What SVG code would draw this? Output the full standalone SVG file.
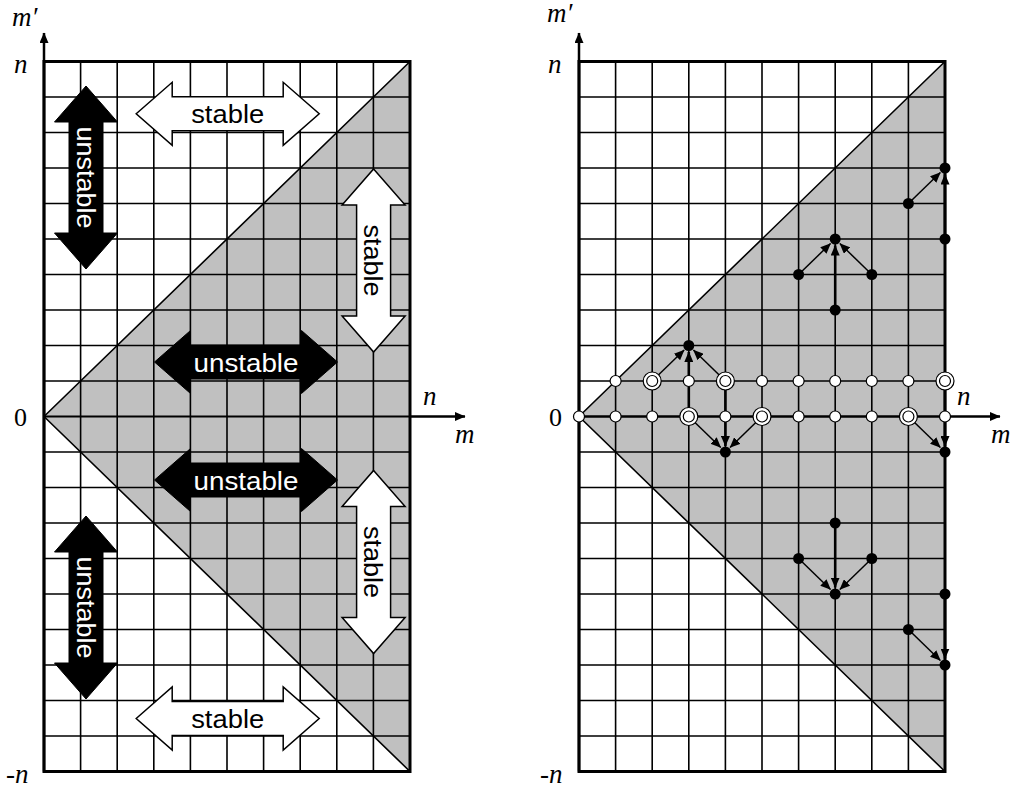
<svg xmlns="http://www.w3.org/2000/svg" width="1021" height="790" viewBox="0 0 1021 790">
<style>
.grid{stroke:#000;stroke-width:1.6;fill:none}
.border{stroke:#000;stroke-width:3;fill:none}
.lbl{font-family:"Liberation Serif","Times New Roman",serif;font-style:italic;font-size:27px;fill:#000}
.num{font-family:"Liberation Serif","Times New Roman",serif;font-size:26px;fill:#000}
.word{font-family:"Liberation Sans",Arial,sans-serif;font-size:26px;text-anchor:middle}
.wb{fill:#fff}
.bw{fill:#000}
.blk{fill:#000;stroke:#000;stroke-width:1}
.wht{fill:#fff;stroke:#000;stroke-width:1.5}
.con{stroke:#000;stroke-width:1.5;fill:none;marker-end:url(#ah)}
.conv{stroke:#000;stroke-width:2.6;fill:none;marker-end:url(#ah)}
.axis{stroke:#000;stroke-width:2.5;fill:none;marker-end:url(#ah)}
.dot{fill:#000}
.open{fill:#fff;stroke:#000;stroke-width:1.2}
.ring{fill:#fff;stroke:#000;stroke-width:1.2}
</style>
<defs>
<marker id="ah" markerUnits="userSpaceOnUse" markerWidth="11" markerHeight="9" refX="10" refY="4.5" orient="auto" viewBox="0 0 11 9">
<path d="M0,0 L10.5,4.5 L0,9 Z" fill="#000"/>
</marker>
<path id="darrow" d="M-91.5,0 L-55.5,-31.5 L-55.5,-17 L55.5,-17 L55.5,-31.5 L91.5,0 L55.5,31.5 L55.5,17 L-55.5,17 L-55.5,31.5 Z"/>
</defs>
<rect x="0" y="0" width="1021" height="790" fill="#fff"/>

<!-- LEFT PANEL -->
<g id="left-panel">
<polygon points="44,416.5 410,61.5 410,771.5" fill="#c0c0c0"/>
<path class="grid" d="M80.6,61.5V771.5M117.2,61.5V771.5M153.8,61.5V771.5M190.4,61.5V771.5M227,61.5V771.5M263.6,61.5V771.5M300.2,61.5V771.5M336.8,61.5V771.5M373.4,61.5V771.5
M44,97H410M44,132.5H410M44,168H410M44,203.5H410M44,239H410M44,274.5H410M44,310H410M44,345.5H410M44,381H410M44,452H410M44,487.5H410M44,523H410M44,558.5H410M44,594H410M44,629.5H410M44,665H410M44,700.5H410M44,736H410"/>
<path class="grid" d="M44,416.5L410,61.5M44,416.5L410,771.5" stroke-width="1.8"/>
<path d="M44,416.5H410" stroke="#000" stroke-width="2"/>
<rect class="border" x="44" y="61.5" width="366" height="710"/>
</g>
<g id="left-axes">
<path class="axis" d="M44,771.5V33"/>
<path class="axis" d="M410,416.5H465"/>
<text class="lbl" x="12" y="26">m′</text>
<text class="lbl" x="14" y="73">n</text>
<text class="num" x="14" y="426">0</text>
<text class="lbl" x="6" y="783">-n</text>
<text class="lbl" x="423" y="405">n</text>
<text class="lbl" x="455" y="443">m</text>
</g>

<g id="stable-top">
<use href="#darrow" class="wht" transform="translate(227.7,113.8)"/>
<text class="word bw" x="227.7" y="122.8" textLength="73" lengthAdjust="spacingAndGlyphs">stable</text>
</g>
<g id="unstable-left-top">
<use href="#darrow" class="blk" transform="translate(86,177.5) rotate(90)"/>
<text class="word wb" transform="translate(86,177.5) rotate(90)" x="0" y="9.3" textLength="102" lengthAdjust="spacingAndGlyphs">unstable</text>
</g>
<g id="stable-right-top">
<use href="#darrow" class="wht" transform="translate(373.6,260.5) rotate(90)"/>
<text class="word bw" transform="translate(373.6,260.5) rotate(90)" x="0" y="9.3" textLength="72" lengthAdjust="spacingAndGlyphs">stable</text>
</g>
<g id="unstable-mid-top">
<use href="#darrow" class="blk" transform="translate(246,362)"/>
<text class="word wb" x="246" y="371.5" textLength="105" lengthAdjust="spacingAndGlyphs">unstable</text>
</g>
<g id="unstable-mid-bottom">
<use href="#darrow" class="blk" transform="translate(246,480)"/>
<text class="word wb" x="246" y="489.5" textLength="105" lengthAdjust="spacingAndGlyphs">unstable</text>
</g>
<g id="stable-right-bottom">
<use href="#darrow" class="wht" transform="translate(373.6,562) rotate(90)"/>
<text class="word bw" transform="translate(373.6,562) rotate(90)" x="0" y="9.3" textLength="72" lengthAdjust="spacingAndGlyphs">stable</text>
</g>
<g id="unstable-left-bottom">
<use href="#darrow" class="blk" transform="translate(86,607.5) rotate(90)"/>
<text class="word wb" transform="translate(86,607.5) rotate(90)" x="0" y="9.3" textLength="102" lengthAdjust="spacingAndGlyphs">unstable</text>
</g>
<g id="stable-bottom">
<use href="#darrow" class="wht" transform="translate(227.7,718.5)"/>
<text class="word bw" x="227.7" y="727.5" textLength="73" lengthAdjust="spacingAndGlyphs">stable</text>
</g>

<!-- RIGHT PANEL -->
<g id="right-panel">
<polygon points="579,416.5 945,61.5 945,771.5" fill="#c0c0c0"/>
<path class="grid" d="M615.6,61.5V771.5M652.2,61.5V771.5M688.8,61.5V771.5M725.4,61.5V771.5M762,61.5V771.5M798.6,61.5V771.5M835.2,61.5V771.5M871.8,61.5V771.5M908.4,61.5V771.5
M579,97H945M579,132.5H945M579,168H945M579,203.5H945M579,239H945M579,274.5H945M579,310H945M579,345.5H945M579,381H945M579,452H945M579,487.5H945M579,523H945M579,558.5H945M579,594H945M579,629.5H945M579,665H945M579,700.5H945M579,736H945"/>
<path class="grid" d="M579,416.5L945,61.5M579,416.5L945,771.5" stroke-width="1.8"/>
<rect class="border" x="579" y="61.5" width="366" height="710"/>
</g>
<g id="right-axes">
<path class="axis" d="M579,771.5V33"/>
<path class="axis" d="M579,416.5H1000"/>
<text class="lbl" x="547" y="22">m′</text>
<text class="lbl" x="548" y="73">n</text>
<text class="num" x="549" y="426">0</text>
<text class="lbl" x="540" y="783">-n</text>
<text class="lbl" x="957" y="405">n</text>
<text class="lbl" x="991" y="443">m</text>
</g>

<g id="connectors">
<path class="con" d="M652.2,381L684.13,350.03"/>
<path class="con" d="M725.4,381L693.47,350.03"/>
<path class="conv" d="M688.8,416.5V352"/>
<path class="con" d="M688.8,416.5L720.73,447.47"/>
<path class="con" d="M762,416.5L730.07,447.47"/>
<path class="conv" d="M725.4,381V446"/>
<path class="con" d="M908.4,416.5L940.33,447.47"/>
<path class="conv" d="M945,381V446"/>
<path class="con" d="M798.6,274.5L830.53,243.53"/>
<path class="con" d="M871.8,274.5L839.87,243.53"/>
<path class="conv" d="M835.2,310V245.5"/>
<path class="con" d="M908.4,203.5L940.33,172.53"/>
<path class="conv" d="M945,239V174.5"/>
<path class="con" d="M798.6,558.5L830.53,589.47"/>
<path class="con" d="M871.8,558.5L839.87,589.47"/>
<path class="conv" d="M835.2,523V587.5"/>
<path class="con" d="M908.4,629.5L940.33,660.47"/>
<path class="conv" d="M945,594V658.5"/>
</g>

<g id="points">
<circle class="ring" cx="652.2" cy="381" r="9"/>
<circle class="ring" cx="725.4" cy="381" r="9"/>
<circle class="ring" cx="945" cy="381" r="9"/>
<circle class="ring" cx="688.8" cy="416.5" r="9"/>
<circle class="ring" cx="762" cy="416.5" r="9"/>
<circle class="ring" cx="908.4" cy="416.5" r="9"/>
<circle class="open" cx="615.6" cy="381" r="5.5"/>
<circle class="open" cx="652.2" cy="381" r="5.5"/>
<circle class="open" cx="688.8" cy="381" r="5.5"/>
<circle class="open" cx="725.4" cy="381" r="5.5"/>
<circle class="open" cx="762" cy="381" r="5.5"/>
<circle class="open" cx="798.6" cy="381" r="5.5"/>
<circle class="open" cx="835.2" cy="381" r="5.5"/>
<circle class="open" cx="871.8" cy="381" r="5.5"/>
<circle class="open" cx="908.4" cy="381" r="5.5"/>
<circle class="open" cx="945" cy="381" r="5.5"/>
<circle class="open" cx="579" cy="416.5" r="5.5"/>
<circle class="open" cx="615.6" cy="416.5" r="5.5"/>
<circle class="open" cx="652.2" cy="416.5" r="5.5"/>
<circle class="open" cx="688.8" cy="416.5" r="5.5"/>
<circle class="open" cx="725.4" cy="416.5" r="5.5"/>
<circle class="open" cx="762" cy="416.5" r="5.5"/>
<circle class="open" cx="798.6" cy="416.5" r="5.5"/>
<circle class="open" cx="835.2" cy="416.5" r="5.5"/>
<circle class="open" cx="871.8" cy="416.5" r="5.5"/>
<circle class="open" cx="908.4" cy="416.5" r="5.5"/>
<circle class="open" cx="945" cy="416.5" r="5.5"/>
<circle class="dot" cx="688.8" cy="345.5" r="5.5"/>
<circle class="dot" cx="725.4" cy="452" r="5.5"/>
<circle class="dot" cx="945" cy="452" r="5.5"/>
<circle class="dot" cx="835.2" cy="239" r="5.5"/>
<circle class="dot" cx="798.6" cy="274.5" r="5.5"/>
<circle class="dot" cx="871.8" cy="274.5" r="5.5"/>
<circle class="dot" cx="835.2" cy="310" r="5.5"/>
<circle class="dot" cx="908.4" cy="203.5" r="5.5"/>
<circle class="dot" cx="945" cy="168" r="5.5"/>
<circle class="dot" cx="945" cy="239" r="5.5"/>
<circle class="dot" cx="835.2" cy="523" r="5.5"/>
<circle class="dot" cx="798.6" cy="558.5" r="5.5"/>
<circle class="dot" cx="871.8" cy="558.5" r="5.5"/>
<circle class="dot" cx="835.2" cy="594" r="5.5"/>
<circle class="dot" cx="908.4" cy="629.5" r="5.5"/>
<circle class="dot" cx="945" cy="665" r="5.5"/>
<circle class="dot" cx="945" cy="594" r="5.5"/>
</g>
</svg>
